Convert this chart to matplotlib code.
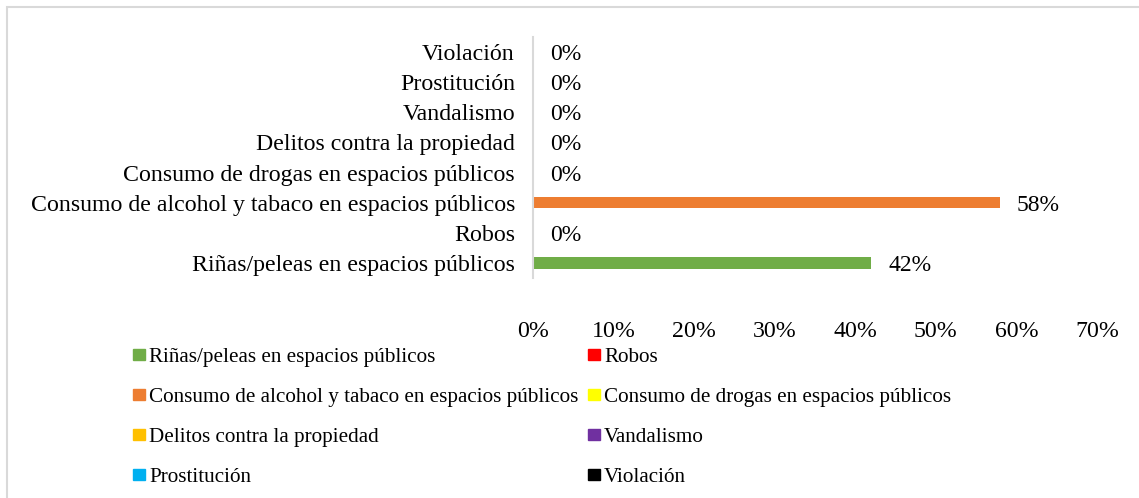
import matplotlib.pyplot as plt
import matplotlib.patches as mpatches
from matplotlib.ticker import FuncFormatter

plt.rcParams['font.family'] = ['Liberation Serif', 'DejaVu Serif']

# datos (de abajo hacia arriba)
categorias = ['Riñas/peleas en espacios públicos', 'Robos',
              'Consumo de alcohol y tabaco en espacios públicos',
              'Consumo de drogas en espacios públicos',
              'Delitos contra la propiedad', 'Vandalismo', 'Prostitución',
              'Violación']
porcentajes = [42, 0, 58, 0, 0, 0, 0, 0]
colores = ['#70AD47', '#FF0000', '#ED7D31', '#FFFF00',
           '#FFC000', '#7030A0', '#00B0F0', '#000000']
ticks_x = [0, 10, 20, 30, 40, 50, 60, 70]

fig = plt.figure(figsize=(11.39, 4.98), dpi=100)
ax = fig.add_axes([533 / 1139, 1 - 278 / 498, (1097 - 533) / 1139, (278 - 37) / 498])

y = range(len(categorias))
barras = ax.barh(y, porcentajes, height=0.37, color=colores)

# etiquetas de datos
for i, v in enumerate(porcentajes):
    ax.annotate(f'{v}%', (v, i), xytext=(12, 0), textcoords='offset points',
                va='center_baseline', ha='left', fontsize=17)

ax.set_xlim(0, 70)
ax.set_ylim(-0.5, len(categorias) - 0.5)
ax.set_xticks(ticks_x)
ax.xaxis.set_major_formatter(FuncFormatter(lambda v, p: f'{v:.0f}%'))
ax.set_yticks(list(y))
ax.set_yticklabels(categorias)
ax.tick_params(axis='x', length=0, pad=31, labelsize=17.2)
ax.tick_params(axis='y', length=0, pad=13, labelsize=17.2)
for s in ['top', 'right', 'bottom']:
    ax.spines[s].set_visible(False)
ax.spines['left'].set_color('#D9D9D9')
ax.spines['left'].set_linewidth(1.5)

# leyenda en dos columnas
handles = [mpatches.Patch(color=c, label=l) for c, l in zip(colores, categorias)]
col1 = handles[0::2]
col2 = handles[1::2]
for hs, x0 in [(col1, 133), (col2, 588)]:
    fig.legend(handles=hs, loc='upper left', bbox_to_anchor=(x0 / 1139, 1 - 348 / 498),
               frameon=False, fontsize=15.2, handlelength=0.55, handleheight=0.45,
               handletextpad=0.22, labelspacing=1.0, borderpad=0, borderaxespad=0)

# marco del gráfico
fig.patches.append(mpatches.Rectangle((7 / 1139, -0.1), 1.2, 1.1 - 7 / 498,
                                      transform=fig.transFigure, fill=False,
                                      edgecolor='#D9D9D9', linewidth=1.5))

plt.savefig('out.png', dpi=100)
